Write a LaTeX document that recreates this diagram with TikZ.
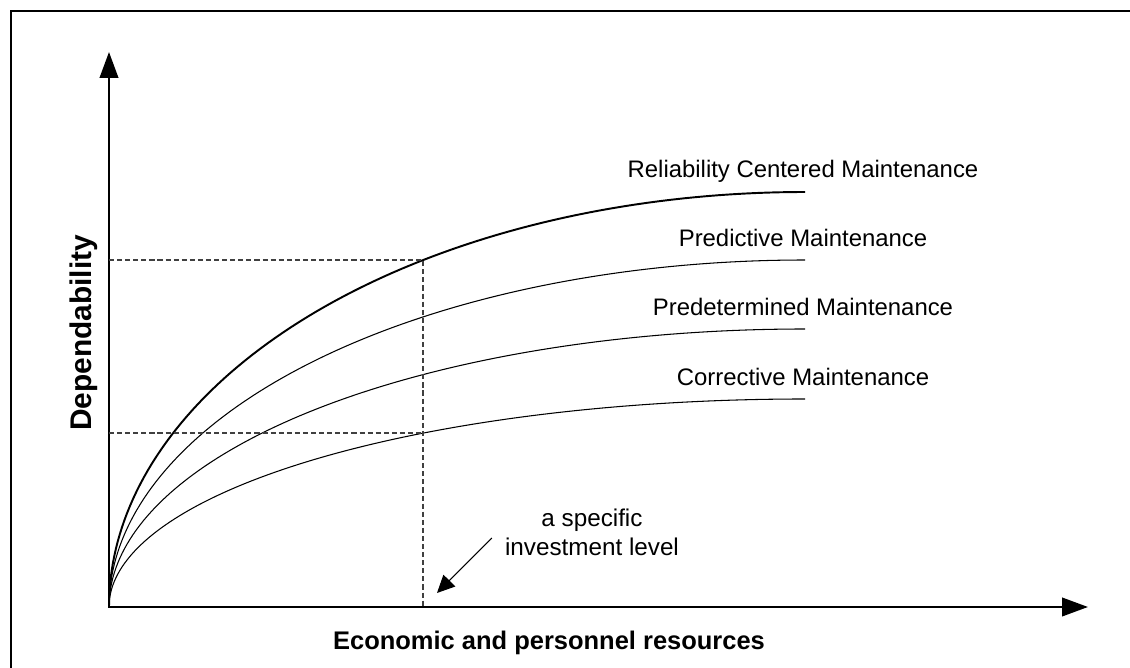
\documentclass[tikz,border=0pt]{standalone}
\usepackage{fontspec}
\setmainfont{Liberation Sans}
\usetikzlibrary{arrows.meta, positioning, calc}
\tikzset{
  frameline/.style={line width=1.2pt},
  axes/.style={line width=1.4pt, {Triangle[length=0.52cm, width=0.37cm]}-{Triangle[length=0.52cm, width=0.37cm]}},
  curve/.style={line width=0.6pt},
  maincurve/.style={line width=1.1pt},
  guide/.style={line width=0.6pt, black!75, dash pattern=on 2.9pt off 1.7pt},
  pointer/.style={line width=0.6pt, -{Triangle[length=0.35cm, width=0.33cm]}},
  curvelabel/.style={font=\fontsize{13.6}{16}\selectfont, anchor=base},
  notebox/.style={font=\fontsize{13.8}{16.5}\selectfont, align=center},
  xlabel/.style={font=\fontsize{14.5}{17}\selectfont\bfseries, anchor=base},
  ylabel/.style={font=\fontsize{17}{20}\selectfont\bfseries, anchor=base, rotate=90}
}

\begin{document}
\begin{tikzpicture}[x=0.02cm, y=0.02cm]
  \useasboundingbox (0,0) rectangle (1130,668);
  % frame, only its left and top edges are in view
  \draw[frameline] (11,0) |- (1130,657);

  % Axes
  \coordinate (origin) at (109,61);
  \coordinate (ytip) at (109,616);
  \coordinate (xtip) at (1088,61);
  \draw[axes] (ytip) -- (origin) -- (xtip);

  % Curves (quarter ellipses)
  \draw[maincurve] plot[domain=180:90, samples=90] ({805+696*cos(\x)}, {61+415*sin(\x)});
  \draw[curve] plot[domain=180:90, samples=90] ({805+696*cos(\x)}, {61+347*sin(\x)});
  \draw[curve] plot[domain=180:90, samples=90] ({805+696*cos(\x)}, {61+278*sin(\x)});
  \draw[curve] plot[domain=180:90, samples=90] ({805+696*cos(\x)}, {61+208*sin(\x)});
  \coordinate (rcmEnd) at (805,476);
  \coordinate (pdmEnd) at (805,408);
  \coordinate (pdtEnd) at (805,339);
  \coordinate (cmEnd) at (805,269);

  % Labels
  \node[curvelabel] (rcm) at ([xshift=-0.04cm, yshift=0.28cm]rcmEnd) {Reliability Centered Maintenance};
  \node[curvelabel] (pdm) at ([xshift=-0.04cm, yshift=0.27cm]pdmEnd) {Predictive Maintenance};
  \node[curvelabel] (pdt) at ([xshift=-0.04cm, yshift=0.27cm]pdtEnd) {Predetermined Maintenance};
  \node[curvelabel] (cm) at ([xshift=-0.04cm, yshift=0.27cm]cmEnd) {Corrective Maintenance};

  % Investment level
  \coordinate (hi) at (423,408);
  \coordinate (lo) at (423,235);
  \coordinate (foot) at (423,61);
  \draw[guide] (origin |- hi) -- (hi) -- (foot);
  \draw[guide] (origin |- lo) -- (lo);
  \node[notebox] (note) at (592,136) {a specific\\investment level};
  \coordinate (tip) at (437,75);
  \draw[pointer] ([shift={(-7,-6)}]note.west) -- (tip);

  % Axis titles
  \node[xlabel] (xtitle) at (549,18) {Economic and personnel resources};
  \node[ylabel] (ytitle) at (91,335) {Dependability};
\end{tikzpicture}
\end{document}
